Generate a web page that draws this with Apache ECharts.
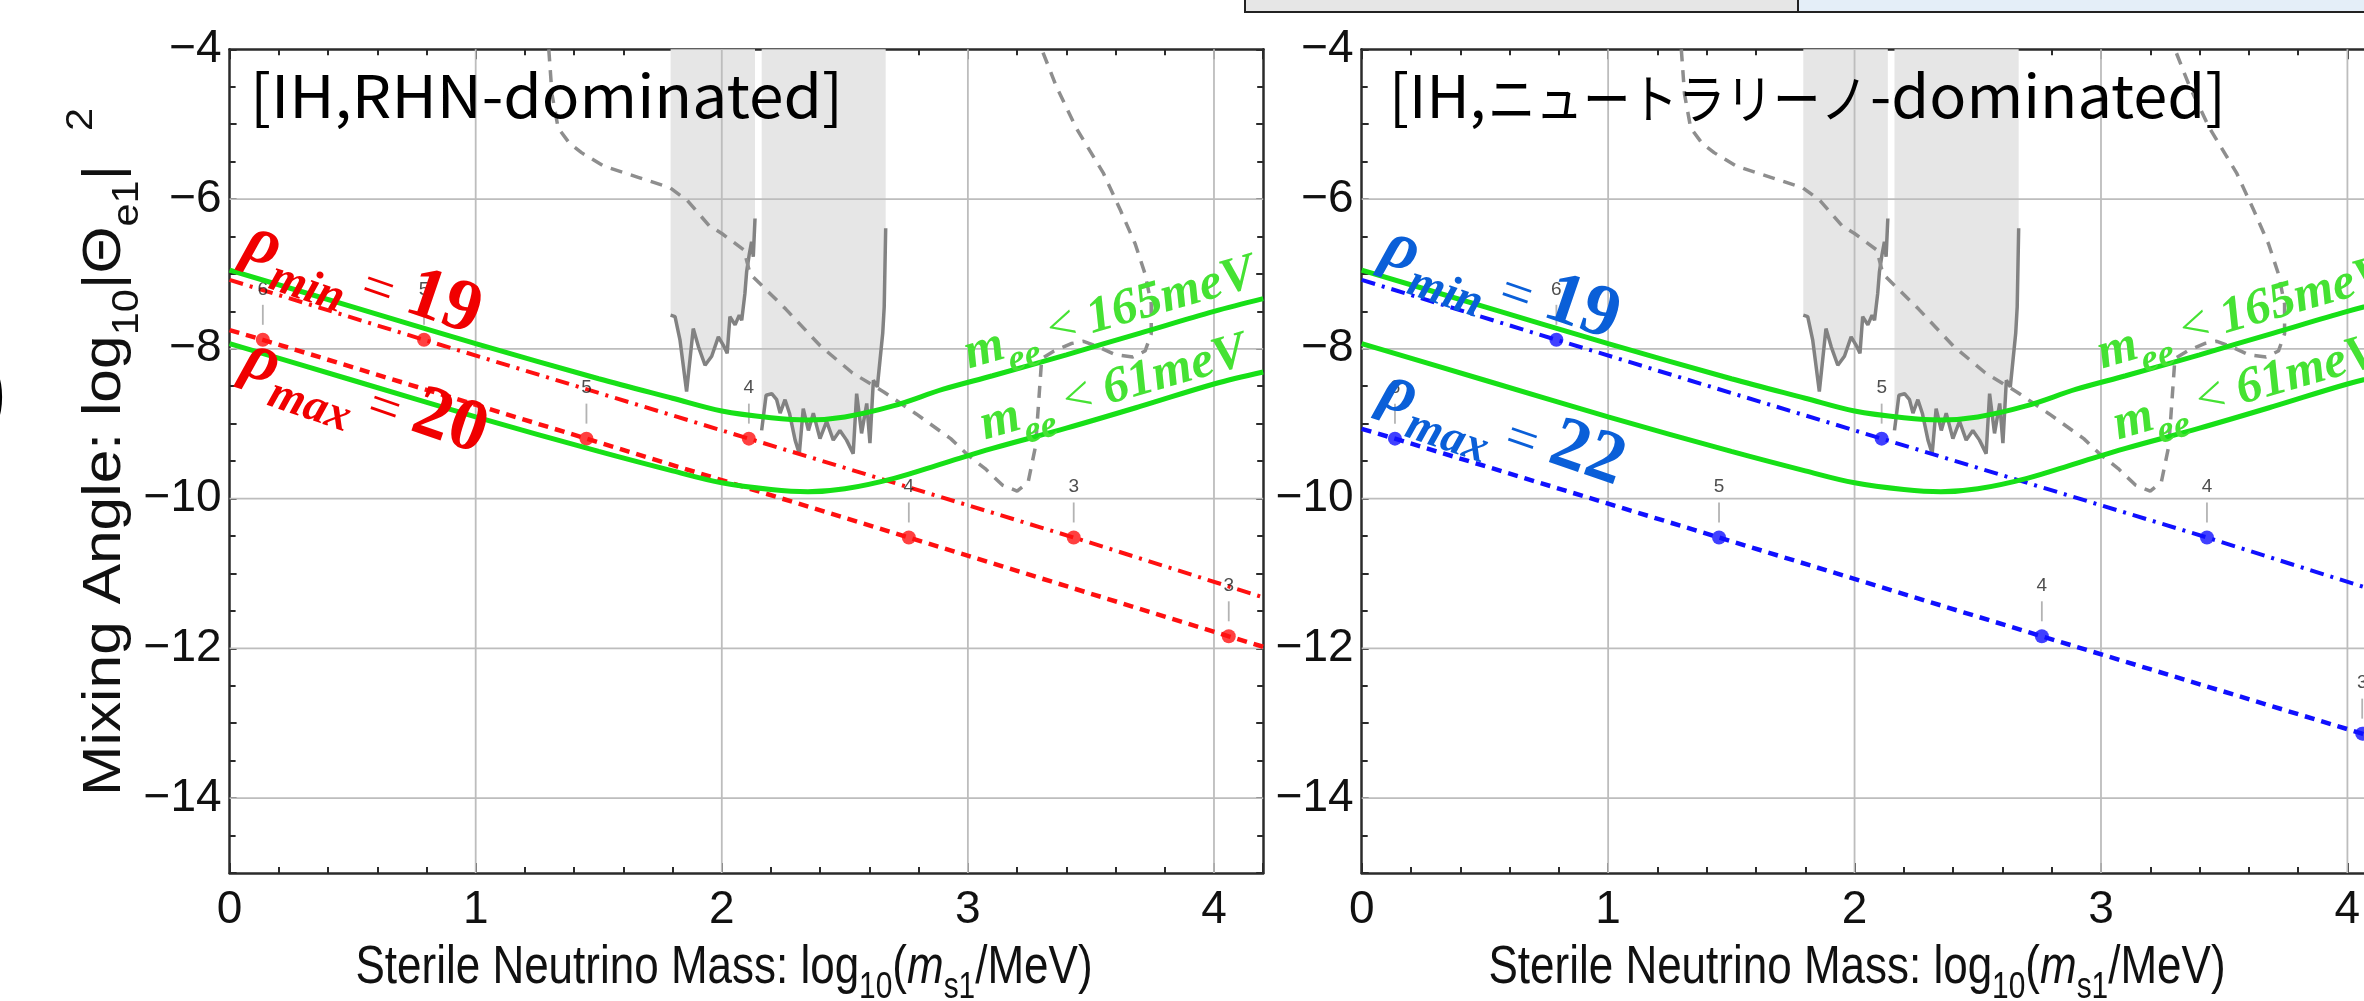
<!DOCTYPE html>
<html>
<head>
<meta charset="utf-8">
<title>IH sterile neutrino mixing</title>
<script src="https://cdn.jsdelivr.net/npm/echarts@6/dist/echarts.min.js"></script>
<style>
html, body { margin: 0; padding: 0; background: #fff; }
#chart { width: 2364px; height: 1001px; }
</style>
</head>
<body>
<div id="chart"></div>
<script>
// ---- data ----
const gridX = [1, 2, 3, 4];
const gridY = [-14, -12, -10, -8, -6];

// m_ee bounds (same in both panels)
const mee165 = [[0,-6.95],[0.5,-7.44],[1.0,-7.93],[1.5,-8.40],[1.8,-8.66],[2.0,-8.83],[2.2,-8.92],[2.35,-8.95],[2.5,-8.91],[2.7,-8.76],[2.9,-8.54],[3.1,-8.36],[3.4,-8.08],[3.7,-7.79],[4.0,-7.50],[4.2,-7.33]];
const mee61 = [[0,-7.93],[0.5,-8.42],[1.0,-8.91],[1.5,-9.37],[1.8,-9.63],[2.0,-9.79],[2.2,-9.88],[2.35,-9.91],[2.5,-9.87],[2.7,-9.73],[2.9,-9.53],[3.1,-9.33],[3.4,-9.06],[3.7,-8.77],[4.0,-8.47],[4.2,-8.31]];

// experimental bounds (gray)
const grayBand1 = [[1.792,-7.55],[1.81,-7.57],[1.83,-7.88],[1.857,-8.57],[1.884,-7.73],[1.905,-7.97],[1.932,-8.22],[1.959,-8.10],[1.986,-7.84],[2.006,-7.95],[2.022,-8.06],[2.033,-7.57],[2.054,-7.68],[2.071,-7.55],[2.081,-7.62],[2.094,-7.26],[2.101,-6.97],[2.112,-6.73],[2.121,-6.57],[2.128,-6.77],[2.135,-6.26]];
const grayBand2 = [[2.162,-9.09],[2.18,-8.62],[2.203,-8.60],[2.223,-8.68],[2.237,-8.86],[2.257,-8.68],[2.275,-8.86],[2.298,-9.22],[2.315,-9.40],[2.331,-8.80],[2.352,-9.09],[2.372,-8.86],[2.399,-9.20],[2.426,-8.97],[2.453,-9.22],[2.48,-9.09],[2.507,-9.22],[2.534,-9.40],[2.548,-8.60],[2.568,-9.13],[2.589,-8.73],[2.602,-9.26],[2.616,-8.42],[2.632,-8.51],[2.643,-8.15],[2.654,-7.79],[2.66,-7.44],[2.666,-6.39]];
const grayDashed = [[1.297,-4.0],[1.31,-4.6],[1.335,-5.05],[1.38,-5.25],[1.43,-5.38],[1.52,-5.56],[1.66,-5.71],[1.79,-5.85],[1.86,-6.02],[1.95,-6.36],[2.0,-6.46],[2.09,-6.68],[2.115,-7.0],[2.26,-7.47],[2.4,-7.96],[2.53,-8.32],[2.66,-8.58],[2.79,-8.87],[2.93,-9.2],[3.0,-9.42],[3.07,-9.6],[3.14,-9.82],[3.2,-9.9],[3.245,-9.78],[3.275,-9.3],[3.29,-8.6],[3.30,-8.13],[3.35,-8.03],[3.42,-7.93],[3.47,-7.9],[3.52,-7.96],[3.6,-8.08],[3.67,-8.11],[3.72,-8.03],[3.745,-7.8],[3.745,-7.4],[3.72,-7.0],[3.68,-6.6],[3.62,-6.15],[3.55,-5.65],[3.44,-5.05],[3.36,-4.5],[3.30,-4.0]];

// RHN-dominated (red)
const redMinLine = [[0,-7.08],[0.79,-7.88],[2.11,-9.2],[3.43,-10.52],[4.2,-11.32]];
const redMinDots = [[0.79,-7.88],[2.11,-9.2],[3.43,-10.52]];
const redMinTags = ['5','4','3'];
const redMaxLine = [[0,-7.75],[0.135,-7.88],[1.45,-9.2],[2.76,-10.52],[4.06,-11.84],[4.2,-11.98]];
const redMaxDots = [[0.135,-7.88],[1.45,-9.2],[2.76,-10.52],[4.06,-11.84]];
const redMaxTags = ['6','5','4','3'];

// ニュートラリーノ-dominated (blue)
const blueMinLine = [[0,-7.08],[0.79,-7.88],[2.11,-9.2],[3.43,-10.52],[4.2,-11.32]];
const blueMinDots = [[0.79,-7.88],[2.11,-9.2],[3.43,-10.52]];
const blueMinTags = ['6','5','4'];
const blueMaxLine = [[0,-9.07],[0.135,-9.2],[1.45,-10.52],[2.76,-11.84],[4.06,-13.14],[4.2,-13.3]];
const blueMaxDots = [[0.135,-9.2],[1.45,-10.52],[2.76,-11.84],[4.06,-13.14]];
const blueMaxTags = ['6','5','4','3'];

// ---- styling ----
const INK = '#2b2b2b';
const SANS = "'Liberation Sans', Arial, sans-serif";
const SERIF = "'Liberation Serif', 'DejaVu Serif', serif";
const CJK = "'Noto Sans CJK JP', 'Noto Sans', sans-serif";
const RED = '#ff1010', BLUE = '#1010ff', GREEN = '#17e017';
const RHO_RED = '#f00000', RHO_BLUE = '#0a5fd8', MEE_GREEN = '#45e233';

const chart = echarts.init(document.getElementById('chart'));

function makeX(gi, pos) {
  return {
    gridIndex: gi, type: 'value', position: pos, min: 0, max: 4.2, interval: 1,
    axisLine: { show: true, onZero: false, lineStyle: { color: INK, width: 2.5 } },
    axisTick: { show: true, inside: true, length: 10, lineStyle: { color: INK, width: 2 } },
    minorTick: { show: true, splitNumber: 5, length: 6, lineStyle: { color: INK, width: 2 } },
    splitLine: { show: false },
    axisLabel: pos === 'bottom' ? {
      show: true, margin: 14, fontFamily: SANS, fontSize: 46, color: '#111',
      formatter: v => Number.isInteger(v) ? String(v) : ''
    } : { show: false }
  };
}
function makeY(gi, pos) {
  return {
    gridIndex: gi, type: 'value', position: pos, min: -15, max: -4, interval: 1,
    axisLine: { show: true, onZero: false, lineStyle: { color: INK, width: 2.5 } },
    axisTick: { show: true, inside: true, length: 7, lineStyle: { color: INK, width: 2 } },
    minorTick: { show: true, splitNumber: 2, length: 6, lineStyle: { color: INK, width: 2 } },
    splitLine: { show: false },
    axisLabel: pos === 'left' ? {
      show: true, margin: 8, fontFamily: SANS, fontSize: 46, color: '#111',
      formatter: v => (Number.isInteger(v) && v % 2 === 0) ? '\u2212' + Math.abs(v) : ''
    } : { show: false }
  };
}

function line(gi, data, color, width, type, z, smooth) {
  return {
    type: 'line', xAxisIndex: gi * 2, yAxisIndex: gi * 2, data: data,
    showSymbol: false, symbol: 'none', silent: true, z: z, smooth: smooth || false,
    lineStyle: { color: color, width: width, type: type }
  };
}
function band(gi, data) {
  return {
    type: 'line', xAxisIndex: gi * 2, yAxisIndex: gi * 2, data: data,
    showSymbol: false, symbol: 'none', silent: true, z: 1,
    lineStyle: { opacity: 0 },
    areaStyle: { color: '#e6e6e6', opacity: 1, origin: 'end' }
  };
}
function dots(gi, data, tags, color) {
  return [{
    type: 'scatter', xAxisIndex: gi * 2, yAxisIndex: gi * 2, data: data,
    symbolSize: 14, itemStyle: { color: color }, silent: true, z: 6,
    label: {
      show: true, position: 'top', distance: 34, fontFamily: SANS, fontSize: 19, color: '#222',
      formatter: p => tags[p.dataIndex]
    }
  }, {
    type: 'scatter', xAxisIndex: gi * 2, yAxisIndex: gi * 2, data: data,
    symbol: 'rect', symbolSize: [1.8, 20], symbolOffset: [0, -25],
    itemStyle: { color: '#a0a0a0' }, silent: true, z: 5
  }];
}

function panel(gi, minLine, minDots, minTags, maxLine, maxDots, maxTags, color) {
  const s = [];
  s.push(band(gi, grayBand1), band(gi, grayBand2));
  gridX.forEach(gx => s.push(line(gi, [[gx, -15], [gx, -4]], '#bdbdbd', 1.8, 'solid', 2)));
  gridY.forEach(gy => s.push(line(gi, [[0, gy], [4.2, gy]], '#bdbdbd', 1.8, 'solid', 2)));
  s.push(line(gi, grayBand1, '#828282', 3.5, 'solid', 3));
  s.push(line(gi, grayBand2, '#828282', 3.5, 'solid', 3));
  s.push(line(gi, grayDashed, '#8e8e8e', 3.5, [12, 9], 3));
  s.push(line(gi, minLine, color, 4, [14, 7, 3, 7], 4));
  s.push(line(gi, maxLine, color, 4.5, [10, 7], 4));
  s.push(...dots(gi, minDots, minTags, color));
  s.push(...dots(gi, maxDots, maxTags, color));
  s.push(line(gi, mee165, GREEN, 5, 'solid', 7, 0.35));
  s.push(line(gi, mee61, GREEN, 5, 'solid', 7, 0.35));
  return s;
}

chart.setOption({
  animation: false,
  backgroundColor: '#fff',
  grid: [
    { left: 229.6, top: 49.3, width: 1033.6, height: 823.6, containLabel: false, outerBoundsMode: 'none' },
    { left: 1361.7, top: 49.3, width: 1035, height: 823.6, containLabel: false, outerBoundsMode: 'none' }
  ],
  xAxis: [makeX(0, 'bottom'), makeX(0, 'top'), makeX(1, 'bottom'), makeX(1, 'top')],
  yAxis: [makeY(0, 'left'), makeY(0, 'right'), makeY(1, 'left'), makeY(1, 'right')],
  series: [].concat(
    panel(0, redMinLine, redMinDots, redMinTags, redMaxLine, redMaxDots, redMaxTags, RED),
    panel(1, blueMinLine, blueMinDots, blueMinTags, blueMaxLine, blueMaxDots, blueMaxTags, BLUE)
  )
});

// ---- annotations ----
const px = (gi, x, y) => chart.convertToPixel({ gridIndex: gi }, [x, y]);

// every token bottom-aligned; main tokens lifted by `pad` so subscripts hang below
function tok(family, size, color, italic, bold, pad) {
  return {
    fontFamily: family, fontSize: size, lineHeight: size, fill: color, color: color,
    fontStyle: italic ? 'italic' : 'normal', fontWeight: bold ? 'bold' : 'normal',
    verticalAlign: 'bottom', padding: [0, 0, pad, 0]
  };
}
function rhoText(gi, x, y, sub, val, color) {
  const p = px(gi, x, y);
  return {
    type: 'text', x: p[0], y: p[1], rotation: -0.33, z: 20, silent: true,
    style: {
      text: '{b|\u03c1}{s|' + sub + '}{e| = }{n|' + val + '}',
      align: 'left', verticalAlign: 'top', fill: color,
      rich: {
        b: tok(SERIF, 68, color, true, true, 16),
        s: tok(SERIF, 47, color, true, true, 0),
        e: tok(SERIF, 56, color, false, false, 16),
        n: tok(SERIF, 74, color, false, true, 16)
      }
    }
  };
}
function meeText(gi, x, y, val) {
  const p = px(gi, x, y);
  return {
    type: 'text', x: p[0], y: p[1], rotation: 0.28, z: 20, silent: true,
    style: {
      text: '{b|m}{s|ee}{e| < }{b|' + val + '}',
      align: 'left', verticalAlign: 'top', fill: MEE_GREEN,
      rich: {
        b: tok(SERIF, 51, MEE_GREEN, true, true, 12),
        s: tok(SERIF, 38, MEE_GREEN, true, true, 0),
        e: tok(SERIF, 51, MEE_GREEN, false, false, 12)
      }
    }
  };
}

const xRich = {
  t: tok(SANS, 53, '#111', false, false, 12),
  i: tok(SANS, 53, '#111', true, false, 12),
  d: tok(SANS, 36, '#111', false, false, 0)
};
const yRich = {
  t: tok(SANS, 54, '#111', false, false, 14),
  d: tok(SANS, 37, '#111', false, false, 0),
  u: tok(SANS, 37, '#111', false, false, 46)
};
const xTitle = '{t|Sterile Neutrino Mass: log}{d|10}{t|(}{i|m}{d|s1}{t|/MeV)}';
const yTitle = '{t|Mixing Angle: log}{d|10}{t||\u0398}{d|e1}{t||  }{u|2}';

// panel titles: pieces fitted to the spans they take in the figure
const measure = document.createElement('canvas').getContext('2d');
function titlePiece(str, size, x0, x1, baseY) {
  measure.font = size + "px 'Noto Sans CJK JP'";
  const w = measure.measureText(str).width;
  return {
    type: 'text', x: x0, y: baseY, scaleX: (x1 - x0) / w, z: 20, silent: true,
    style: { text: str, fontFamily: CJK, fontSize: size, fill: '#000', align: 'left', verticalAlign: 'bottom' }
  };
}
const TITLE_BOTTOM = 125.5;

const graphics = [
  { type: 'rect', shape: { x: 1245, y: -4, width: 553, height: 16 }, style: { fill: '#e6e6e6', stroke: '#222', lineWidth: 2 }, z: 30, silent: true },
  { type: 'rect', shape: { x: 1798, y: -4, width: 600, height: 16 }, style: { fill: '#e4eef8', stroke: '#222', lineWidth: 2 }, z: 30, silent: true },
  { type: 'text', x: -25, y: 395, silent: true, style: { text: ')', fontFamily: SANS, fontSize: 100, fill: '#000', align: 'left', verticalAlign: 'middle' } },
  titlePiece('[IH,RHN-dominated]', 59, 250, 843, TITLE_BOTTOM),
  titlePiece('[IH,', 59, 1389, 1486, TITLE_BOTTOM),
  titlePiece('ニュートラリーノ', 53, 1488, 1868, TITLE_BOTTOM),
  titlePiece('-dominated]', 59, 1870, 2226, TITLE_BOTTOM),
  { type: 'text', x: 724, y: 980, scaleX: 0.83, z: 20, silent: true, style: { text: xTitle, rich: xRich, align: 'center', verticalAlign: 'middle', fill: '#111' } },
  { type: 'text', x: 1857, y: 980, scaleX: 0.83, z: 20, silent: true, style: { text: xTitle, rich: xRich, align: 'center', verticalAlign: 'middle', fill: '#111' } },
  { type: 'text', x: 119, y: 452, rotation: Math.PI / 2, scaleX: 1.12, z: 20, silent: true, style: { text: yTitle, rich: yRich, align: 'center', verticalAlign: 'middle', fill: '#111' } },
  rhoText(0, 0.1, -6.24, 'min', '19', RHO_RED),
  rhoText(0, 0.095, -7.80, 'max', '20', RHO_RED),
  rhoText(1, 0.125, -6.31, 'min', '19', RHO_BLUE),
  rhoText(1, 0.117, -8.22, 'max', '22', RHO_BLUE)
];
[0, 1].forEach(gi => {
  graphics.push(meeText(gi, 2.975, -7.92, '165meV'));
  graphics.push(meeText(gi, 3.04, -8.87, '61meV'));
});

chart.setOption({ graphic: { elements: graphics } });
</script>
</body>
</html>
